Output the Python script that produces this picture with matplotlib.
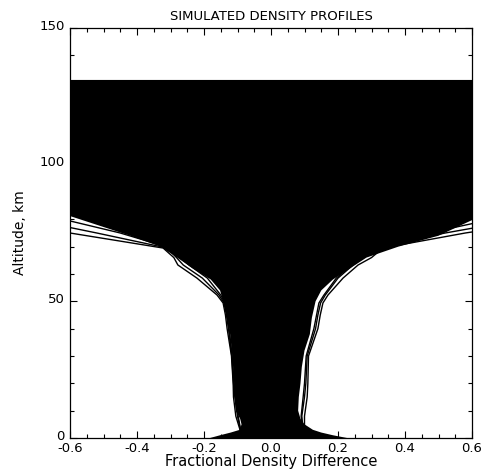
import matplotlib
matplotlib.use("Agg")
import matplotlib.pyplot as plt
import matplotlib.transforms as mtransforms
import numpy as np

plt.rcParams['font.family'] = ['DejaVu Sans']
plt.rcParams['axes.unicode_minus'] = False

# Envelope of the dense bundle of simulated profiles (altitude km -> fractional difference)
core_alt = [0, 1, 2, 3, 5, 7, 10, 15, 20, 26, 32, 38, 44, 50, 54, 58, 62, 66, 70, 74, 78, 82, 86, 131]
core_left = [-0.182, -0.152, -0.12, -0.093, -0.088, -0.092, -0.105, -0.108, -0.110, -0.113, -0.117,
             -0.122, -0.130, -0.143, -0.152, -0.18, -0.233, -0.28, -0.33, -0.42, -0.52, -0.62, -0.75, -0.95]
core_right = [0.227, 0.185, 0.15, 0.125, 0.10, 0.088, 0.081, 0.083, 0.088, 0.092, 0.10,
              0.116, 0.122, 0.133, 0.15, 0.185, 0.235, 0.285, 0.38, 0.50, 0.57, 0.64, 0.75, 0.95]

# Outlying individual profiles visible beyond the bundle edge
prof_alt = [2, 4, 8, 15, 20, 30, 40, 45, 49.4, 52.3, 58.5, 63.3, 66, 69.5, 75, 80]
prof_l1 = [-0.09, -0.095, -0.105, -0.112, -0.113, -0.118, -0.131, -0.136, -0.143, -0.161, -0.221,
           -0.278, -0.29, -0.322, -0.60, -0.85]
prof_l2 = [-0.09, -0.093, -0.100, -0.108, -0.112, -0.117, -0.127, -0.133, -0.140, -0.155, -0.205,
           -0.262, -0.282, -0.31, -0.52, -0.72]
prof_l3 = [-0.09, -0.092, -0.098, -0.106, -0.110, -0.116, -0.125, -0.131, -0.138, -0.150, -0.190,
           -0.245, -0.272, -0.30, -0.45, -0.62]
prof_r1 = [0.10, 0.10, 0.10, 0.108, 0.11, 0.112, 0.140, 0.147, 0.155, 0.170, 0.215,
           0.26, 0.30, 0.334, 0.58, 0.85]
prof_r2 = [0.10, 0.095, 0.092, 0.100, 0.104, 0.108, 0.133, 0.140, 0.148, 0.162, 0.200,
           0.245, 0.275, 0.30, 0.52, 0.75]
prof_r3 = [0.10, 0.093, 0.090, 0.096, 0.100, 0.105, 0.128, 0.136, 0.143, 0.158, 0.195,
           0.240, 0.268, 0.32, 0.47, 0.66]

x_ticks = [-0.6, -0.4, -0.2, 0.0, 0.2, 0.4, 0.6]
y_ticks = [0, 50, 100, 150]

fig = plt.figure(figsize=(4.85, 4.72), dpi=100)
ax = fig.add_axes([70/485, 1-438/472, 402/485, 410/472])

ax.fill_betweenx(core_alt, core_left, core_right, color='black', lw=0)
for p in (prof_l1, prof_l2, prof_l3, prof_r1, prof_r2, prof_r3):
    ax.plot(p, prof_alt, color='black', lw=1.0)

ax.set_xlim(-0.6, 0.6)
ax.set_ylim(0, 150)
ax.set_xticks(x_ticks)
ax.set_xticklabels([f"{v:.1f}" for v in x_ticks])
ax.set_yticks(y_ticks)
ax.set_xticks(np.arange(-0.6, 0.601, 0.05), minor=True)
ax.set_yticks(np.arange(0, 151, 10), minor=True)
ax.tick_params(which='both', direction='in', top=True, right=True, labelsize=9.5, width=0.8)
ax.tick_params(axis='x', pad=3)
ax.tick_params(axis='y', pad=4)
ax.tick_params(which='major', length=5)
ax.tick_params(which='minor', length=3)
for s in ax.spines.values():
    s.set_linewidth(0.9)

# lift the altitude tick labels slightly, as in the original
shift = mtransforms.ScaledTranslation(0, 2.5 / 72, fig.dpi_scale_trans)
for lab in ax.get_yticklabels():
    lab.set_transform(lab.get_transform() + shift)

ax.set_xlabel('Fractional Density Difference', fontsize=10.5, labelpad=-1)
ax.set_ylabel('Altitude, km', fontsize=10, labelpad=9)
ax.set_title('SIMULATED DENSITY PROFILES', fontsize=9.5, pad=6)

fig.savefig('out.png', dpi=100)
